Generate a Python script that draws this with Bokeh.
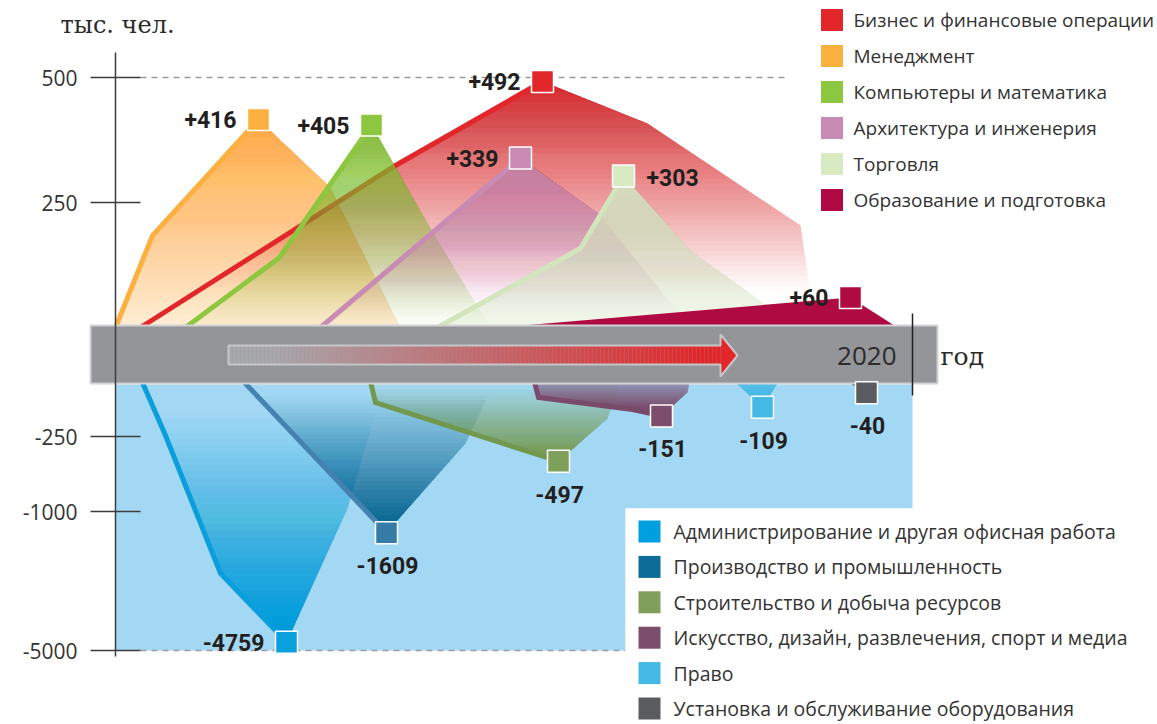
from bokeh.plotting import figure
from bokeh.models import Range1d, LinearAxis, FixedTicker, ColumnDataSource
from bokeh.core.properties import value, field
from bokeh.embed import file_html
from bokeh.resources import INLINE

# ---------------- DATA (thousand persons) ----------------
unit_label = "тыс. чел."
year_label = "2020"
year_word = "год"
tick_values = [500, 250, -250, -1000, -5000]

upper_names = ["Бизнес и финансовые операции", "Менеджмент", "Компьютеры и математика",
               "Архитектура и инженерия", "Торговля", "Образование и подготовка"]
upper_values = [492, 416, 405, 339, 303, 60]
upper_colors = ["#E3262A", "#FBB040", "#8DC63F", "#C98BB3", "#D9E9C4", "#AF0A42"]

lower_names = ["Администрирование и другая офисная работа", "Производство и промышленность",
               "Строительство и добыча ресурсов", "Искусство, дизайн, развлечения, спорт и медиа",
               "Право", "Установка и обслуживание оборудования"]
lower_values = [-4759, -1609, -497, -151, -109, -40]
lower_colors = ["#009FDF", "#0D6C98", "#7FA05B", "#7C4D6D", "#45B9E6", "#5B5C60"]

# shape outlines: position along the time band / value
biz_x = [140, 395, 542, 647, 800, 815];    biz_v = [0, 324, 492, 408, 204, 0]
mgmt_x = [115, 152, 258, 330, 400];        mgmt_v = [0, 184, 416, 280, 0]
comp_x = [185, 279, 371, 430, 490];        comp_v = [0, 140, 405, 198, 0]
arch_x = [320, 520, 598, 690];             arch_v = [0, 339, 228, 0]
trade_x = [437, 580, 623, 690, 760, 790];  trade_v = [0, 158, 303, 154, 54, 0]
edu_x = [500, 850, 897];                   edu_v = [0, 60, 0]

admin_x = [118, 165, 220, 286, 347, 400];  admin_v = [0, -245, -2780, -4759, -970, 0]
manuf_x = [192, 386, 465, 520];            manuf_v = [0, -1609, -320, 0]
constr_x = [357, 375, 558, 607, 640];      constr_v = [0, -87, -497, -163, 0]
arts_x = [520, 538, 632, 661, 687, 700];   arts_v = [0, -62, -120, -151, -38, 0]
law_x = [675, 762, 812];                   law_v = [0, -109, 0]
equip_x = [750, 866, 905];                 equip_v = [0, -40, 0]

# ---------------- scale (broken axis) ----------------
def ty(v):
    if v >= 0:
        return 327 - 0.5 * v
    a = -v
    if a <= 250:
        return 384 + a * 52 / 250
    if a <= 1000:
        return 436 + (a - 250) * 75 / 750
    return 511 + (a - 1000) * 139 / 4000

W, H = 1157, 724
p = figure(width=W, height=H, x_range=Range1d(0, W), y_range=Range1d(H, 0),
           x_axis_type=None, y_axis_type=None, toolbar_location=None, output_backend="svg",
           min_border=0, outline_line_color=None, background_fill_color="white",
           border_fill_color="white")
p.grid.visible = False

# ---------------- helpers ----------------
def clip(pts, nx, ny, c):
    """keep part of polygon with nx*x + ny*y <= c"""
    out = []
    f = [nx * q[0] + ny * q[1] - c for q in pts]
    n = len(pts)
    for i in range(n):
        j = i - 1
        cur, prev, fc, fp = pts[i], pts[j], f[i], f[j]
        if fc <= 0:
            if fp > 0:
                t = fp / (fp - fc)
                out.append((prev[0] + t * (cur[0] - prev[0]), prev[1] + t * (cur[1] - prev[1])))
            out.append(cur)
        elif fp <= 0:
            t = fp / (fp - fc)
            out.append((prev[0] + t * (cur[0] - prev[0]), prev[1] + t * (cur[1] - prev[1])))
    return out

def grad_fill(xs, vs, color, s_from, a_from, s_to, a_to, d=(0.0, 1.0), n=48):
    pts = [(x, ty(v)) for x, v in zip(xs, vs)]
    if a_from == a_to:
        p.patch([q[0] for q in pts], [q[1] for q in pts], fill_color=color,
                fill_alpha=a_from, line_color=None)
        return
    sign = 1 if (a_to - a_from) * (s_to - s_from) <= 0 else -1

    def alpha(s):
        t = (s - s_from) / (s_to - s_from)
        t = min(max(t, 0.0), 1.0)
        return min(max(a_from + (a_to - a_from) * t, 0.0), 0.995)

    u = [sign * (d[0] * q[0] + d[1] * q[1]) for q in pts]
    umin, umax = min(u), max(u)
    thr = [umin + (umax - umin) * k / n for k in range(n + 1)]
    A = [alpha(sign * (thr[k - 1] + thr[k]) / 2) for k in range(1, n + 1)] + [0.0]
    X, Y, AL = [], [], []
    for k in range(n):
        ak = 1 - (1 - A[k]) / (1 - A[k + 1])
        if ak < 0.002:
            continue
        seg = clip(pts, sign * d[0], sign * d[1], thr[k + 1] + (0.5 if k == n - 1 else 0))
        if len(seg) < 3:
            continue
        X.append([q[0] for q in seg]); Y.append([q[1] for q in seg]); AL.append(ak)
    src = ColumnDataSource(dict(xs=X, ys=Y, a=AL))
    p.patches("xs", "ys", source=src, fill_color=color, fill_alpha="a", line_color=None)

def peak_index(vs):
    return max(range(len(vs)), key=lambda i: abs(vs[i]))

# ---------------- lower background ----------------
p.patch([115, 912, 912, 625, 625, 115], [384, 384, ty(-1000) - 3, ty(-1000) - 3, ty(-5000), ty(-5000)],
        fill_color="#A3D8F4", line_color=None)

# dashed reference lines at 500 and -5000
p.segment(x0=[140, 140], y0=[ty(500), ty(-5000)], x1=[785, 625], y1=[ty(500), ty(-5000)],
          line_color="#9A9CA0", line_width=1.5, line_dash="6 5")

# ---------------- upper series ----------------
# (x, v, colour index, alpha at peak, alpha at fade end, fade end pixel)
upper_shapes = [
    (mgmt_x, mgmt_v, 1, 0.95, 0.22, 327),
    (biz_x, biz_v, 0, 0.95, 0.0, 292),
    (comp_x, comp_v, 2, 0.97, 0.03, 325),
    (arch_x, arch_v, 3, 0.92, 0.0, 318),
    (trade_x, trade_v, 4, 1.0, 0.35, 327),
    (edu_x, edu_v, 5, 1.0, 1.0, 327),
]
line_colors_up = ["#E3262A", "#FBB040", "#8DC63F", "#C98BB3", "#D2E5BC", "#AF0A42"]
for xs, vs, ci, a0, a1, yend in upper_shapes:
    ytop = ty(max(vs))
    grad_fill(xs, vs, upper_colors[ci], ytop, a0, yend, a1)
    k = peak_index(vs)
    if ci != 5:
        p.line(xs[:k + 1], [ty(v) for v in vs[:k + 1]], line_color=line_colors_up[ci],
               line_width=5, line_join="miter")

# ---------------- lower series ----------------
# (x, v, colour index, alpha near band, fade start pixel, line colour)
lower_shapes = [
    (admin_x, admin_v, 0, 0.0, 410, "#0A9FDC"),
    (manuf_x, manuf_v, 1, 0.0, 392, "#4682AF"),
    (constr_x, constr_v, 2, 0.05, 388, "#72984D"),
    (arts_x, arts_v, 3, 0.5, 384, "#7A4A6A"),
    (law_x, law_v, 4, 0.85, 384, None),
    (equip_x, equip_v, 5, 1.0, 384, None),
]
for xs, vs, ci, atop, ystart, lc in lower_shapes:
    ytip = ty(min(vs))
    grad_fill(xs, vs, lower_colors[ci], ystart, atop, ytip - 8, 1.0)
    if lc:
        k = peak_index(vs)
        p.line(xs[:k + 1], [ty(v) for v in vs[:k + 1]], line_color=lc, line_width=5,
               line_join="miter")

# ---------------- time band ----------------
p.quad(left=90, right=937, top=325, bottom=383, fill_color="#939598",
       line_color="#D2D2D4", line_width=2)

def lerp_hex(c0, c1, t):
    a = [int(c0[i:i + 2], 16) for i in (1, 3, 5)]
    b = [int(c1[i:i + 2], 16) for i in (1, 3, 5)]
    return "#%02x%02x%02x" % tuple(round(a[j] + (b[j] - a[j]) * t) for j in range(3))

sx = list(range(228, 720, 4))
scol = [lerp_hex("#A8A7AC", "#E3262A", min(max((x - 270) / 430, 0), 1)) for x in sx]
p.quad(left=sx, right=[x + 4 for x in sx], top=345, bottom=364, fill_color=scol, line_color=None)
p.patch([720, 737, 720], [334, 355, 376], fill_color="#E3262A", line_color=None)
p.patch([228, 720, 720, 737, 720, 720, 228], [345, 345, 334, 355, 376, 364, 364],
        fill_color=None, line_color="#C6C6C8", line_width=2)

p.segment(x0=[912], y0=[313], x1=[912], y1=[395], line_color="#231F20", line_width=1.5)
p.text(x=[896], y=[355], text=[year_label], text_font=value("Open Sans"),
       text_font_size="26px", text_color="#2B2B2B", text_align="right", text_baseline="middle")
p.text(x=[940], y=[356], text=[year_word], text_font=value("DejaVu Serif"),
       text_font_size="25px", text_color="#2B2B2B", text_align="left", text_baseline="middle")
p.text(x=[60], y=[24], text=[unit_label], text_font=value("DejaVu Serif"),
       text_font_size="24px", text_color="#2B2B2B", text_align="left", text_baseline="middle")

# ---------------- markers and value labels ----------------
up_shapes_by_cat = [(biz_x, biz_v), (mgmt_x, mgmt_v), (comp_x, comp_v), (arch_x, arch_v),
                    (trade_x, trade_v), (edu_x, edu_v)]
lo_shapes_by_cat = [(admin_x, admin_v), (manuf_x, manuf_v), (constr_x, constr_v),
                    (arts_x, arts_v), (law_x, law_v), (equip_x, equip_v)]
up_place = ["left", "left", "left", "left", "right", "left"]
lo_place = ["left", "below", "below", "below", "below", "below"]
up_mcol = ["#E3262A", "#FBB040", "#8DC63F", "#C98BB3", "#D9E9C4", "#AF0A42"]
lo_mcol = ["#0AA0DD", "#357DA6", "#7FA05B", "#7C4D6D", "#45B9E6", "#5B5C60"]

mx, my, mc, lx, ly, lt, lxo, lyo, la = [], [], [], [], [], [], [], [], []
for shapes, vals, places, cols in ((up_shapes_by_cat, upper_values, up_place, up_mcol),
                                   (lo_shapes_by_cat, lower_values, lo_place, lo_mcol)):
    for (xs, vs), v, pl, c in zip(shapes, vals, places, cols):
        k = peak_index(vs)
        mx.append(xs[k]); my.append(ty(v)); mc.append(c)
        lx.append(xs[k]); ly.append(ty(v)); lt.append("%+d" % v)
        if pl == "left":
            lxo.append(-22); lyo.append(0); la.append("right")
        elif pl == "right":
            lxo.append(23); lyo.append(1); la.append("left")
        else:
            lxo.append(1); lyo.append(33); la.append("center")

p.scatter(mx, my, marker="square", size=22, fill_color=mc, line_color="white", line_width=1.5)
lsrc = ColumnDataSource(dict(x=lx, y=ly, t=lt, xo=lxo, yo=lyo, a=la))
p.text("x", "y", text="t", source=lsrc, x_offset="xo", y_offset="yo", text_align=field("a"),
       text_baseline="middle", text_font=value("Roboto"), text_font_style="bold",
       text_font_size="23px", text_color="#231F20")

# ---------------- legends ----------------
p.scatter([831.5] * 6, [19.5 + 36 * i for i in range(6)], marker="square", size=22,
          fill_color=upper_colors, line_color=None)
p.text([853] * 6, [19.5 + 36 * i for i in range(6)], text=upper_names,
       text_font=value("Open Sans"), text_font_size="19px", text_color="#333333",
       text_baseline="middle")
p.quad(left=625, right=W, top=ty(-1000) - 3, bottom=H, fill_color="white", line_color=None)
low_rows = [531 + 35.4 * i for i in range(6)]
p.scatter([649] * 6, low_rows, marker="square", size=22,
          fill_color=lower_colors, line_color=None)
p.text([673] * 6, low_rows, text=lower_names,
       text_font=value("Open Sans"), text_font_size="19.5px", text_color="#333333",
       text_baseline="middle")

# ---------------- axis ----------------
ticks = [int(round(ty(v))) for v in tick_values]
yaxis = LinearAxis(fixed_location=115, ticker=FixedTicker(ticks=ticks),
                   major_label_overrides={t: str(v) for t, v in zip(ticks, tick_values)},
                   bounds=(52, 656), axis_line_color="#3C3C3C", axis_line_width=1.5,
                   major_tick_line_color="#3C3C3C", major_tick_line_width=1.5,
                   major_tick_in=25, major_tick_out=25, minor_tick_line_color=None,
                   major_label_standoff=13, major_label_text_font="Open Sans",
                   major_label_text_font_size="21px", major_label_text_color="#333333")
p.add_layout(yaxis, "left")

open("out.html", "w").write(file_html(p, INLINE))
